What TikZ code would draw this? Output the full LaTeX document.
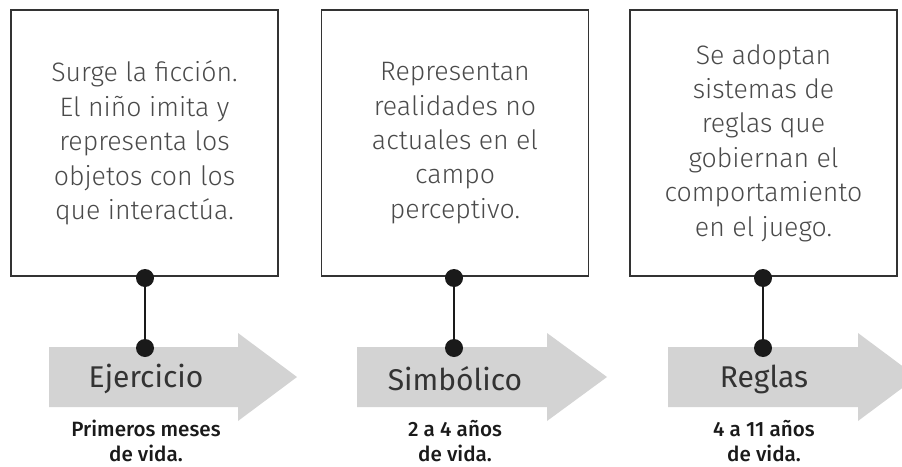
\documentclass[tikz,border=0pt]{standalone}
\usepackage{fontspec}
\usepackage{tikz}
\usetikzlibrary{positioning}
\IfFontExistsTF{Fira Sans Light}{\newfontfamily\fuenteLigera{Fira Sans Light}}{\newfontfamily\fuenteLigera{Fira Sans}}
\IfFontExistsTF{Fira Sans Medium}{\newfontfamily\fuenteMedia{Fira Sans Medium}}{\newfontfamily\fuenteMedia{Fira Sans}}
\newfontfamily\fuenteNormal{Fira Sans}
\definecolor{flechaColor}{HTML}{D3D3D3}
\definecolor{textoColor}{HTML}{4A4A4A}
\definecolor{bordeColor}{HTML}{333333}
\definecolor{puntoColor}{HTML}{1A1A1A}

\begin{document}
\begin{tikzpicture}[x=0.75pt,y=-0.75pt]

          \tikzstyle{caja} = [draw=bordeColor, line width=1.1pt, minimum width=200pt, minimum height=199.5pt, align=center, text=textoColor, font=\fuenteLigera\fontsize{20}{25.8}\selectfont];
          \tikzstyle{punto} = [circle, fill=puntoColor, inner sep=0pt, minimum size=13.5pt];
          \tikzstyle{conector} = [line width=1.1pt, puntoColor];
          \tikzstyle{flecha} = [fill=flechaColor];
          \tikzstyle{etapa} = [text=bordeColor, font=\fuenteNormal\fontsize{22.5}{25}\selectfont];
          \tikzstyle{edad} = [align=center, text=puntoColor, inner sep=0pt, font=\fuenteMedia\fontsize{15.5}{18.5}\selectfont];

          \clip (0,0) rectangle (902,467);

          \fill[flecha] (49,347) -- (238,347) -- (238,333) -- (297,377) -- (238,421) -- (238,407) -- (49,407) -- cycle;
          \fill[flecha] (357,347) -- (547,347) -- (547,333) -- (607,377) -- (547,421) -- (547,407) -- (357,407) -- cycle;
          \fill[flecha] (668,347) -- (858,347) -- (858,333) -- (917,377) -- (858,421) -- (858,407) -- (668,407) -- cycle;

          \node[caja] (cajaA) at (144.5,143) {Surge la ficción.\\El niño imita y\\representa los\\objetos con los\\que interactúa.};
          \node[caja] (cajaB) at (455,143) {Representan\\realidades no\\actuales en el\\campo\\perceptivo.};
          \node[caja] (cajaC) at (763.5,143) {Se adoptan\\sistemas de\\reglas que\\gobiernan el\\comportamiento\\en el juego.};

          \node[punto] (puntoA1) at (145,278) {};
          \node[punto] (puntoA2) at (145,348) {};
          \node[punto] (puntoB1) at (454,278) {};
          \node[punto] (puntoB2) at (454,348) {};
          \node[punto] (puntoC1) at (763,278) {};
          \node[punto] (puntoC2) at (763,348) {};

          \draw[conector] (puntoA1) -- (puntoA2);
          \draw[conector] (puntoB1) -- (puntoB2);
          \draw[conector] (puntoC1) -- (puntoC2);

          \node[etapa] (ejercicio) at (146,379) {Ejercicio};
          \node[etapa] (simbolico) at (455,379) {Simbólico};
          \node[etapa] (reglas) at (764,379) {Reglas};

          \node[edad] (edadA) at (146,441) {Primeros meses\\de vida.};
          \node[edad] (edadB) at (455,441) {2 a 4 años\\de vida.};
          \node[edad] (edadC) at (764,441) {4 a 11 años\\de vida.};
        \end{tikzpicture}
\end{document}
